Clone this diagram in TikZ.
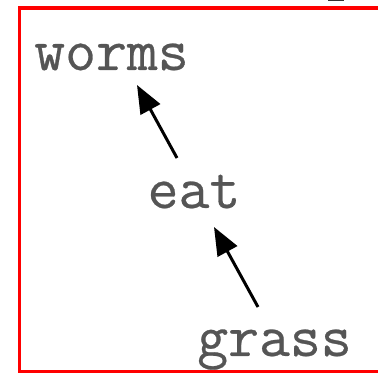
\documentclass[tikz,border=0pt]{standalone}
\usepackage{fontspec}
\newfontfamily\wordfont[FakeBold=0.45]{Latin Modern Mono}
\usetikzlibrary{arrows.meta}
\definecolor{txtgray}{HTML}{555555}
\definecolor{framered}{HTML}{FF0000}
\tikzset{
  word/.style={font=\wordfont\fontsize{60}{60}\selectfont, text=txtgray, anchor=base, inner sep=0pt},
  link/.style={line width=3pt, -{Triangle[length=28pt,width=22pt]}, black},
  frame/.style={draw=framered, line width=3.5pt}
}
\begin{document}
\begin{tikzpicture}[x=1pt,y=1pt]
\useasboundingbox (0,0) rectangle (377,379);
\draw[frame] (390,371) -- (19.5,371) -- (19.5,7.5) -- (390,7.5);
\draw[line width=2pt, black!80] (328,379) -- (344,379);
\node[word] (worms) at (111.5,309) {worms};
\node[word] (eat) at (194,171) {eat};
\node[word] (grass) at (274.5,23) {grass};
\coordinate (a1s) at (177,221);
\coordinate (a1e) at (137,294);
\coordinate (a2s) at (258,72);
\coordinate (a2e) at (214,152);
\draw[link] (a1s) -- (a1e);
\draw[link] (a2s) -- (a2e);
\end{tikzpicture}
\end{document}
